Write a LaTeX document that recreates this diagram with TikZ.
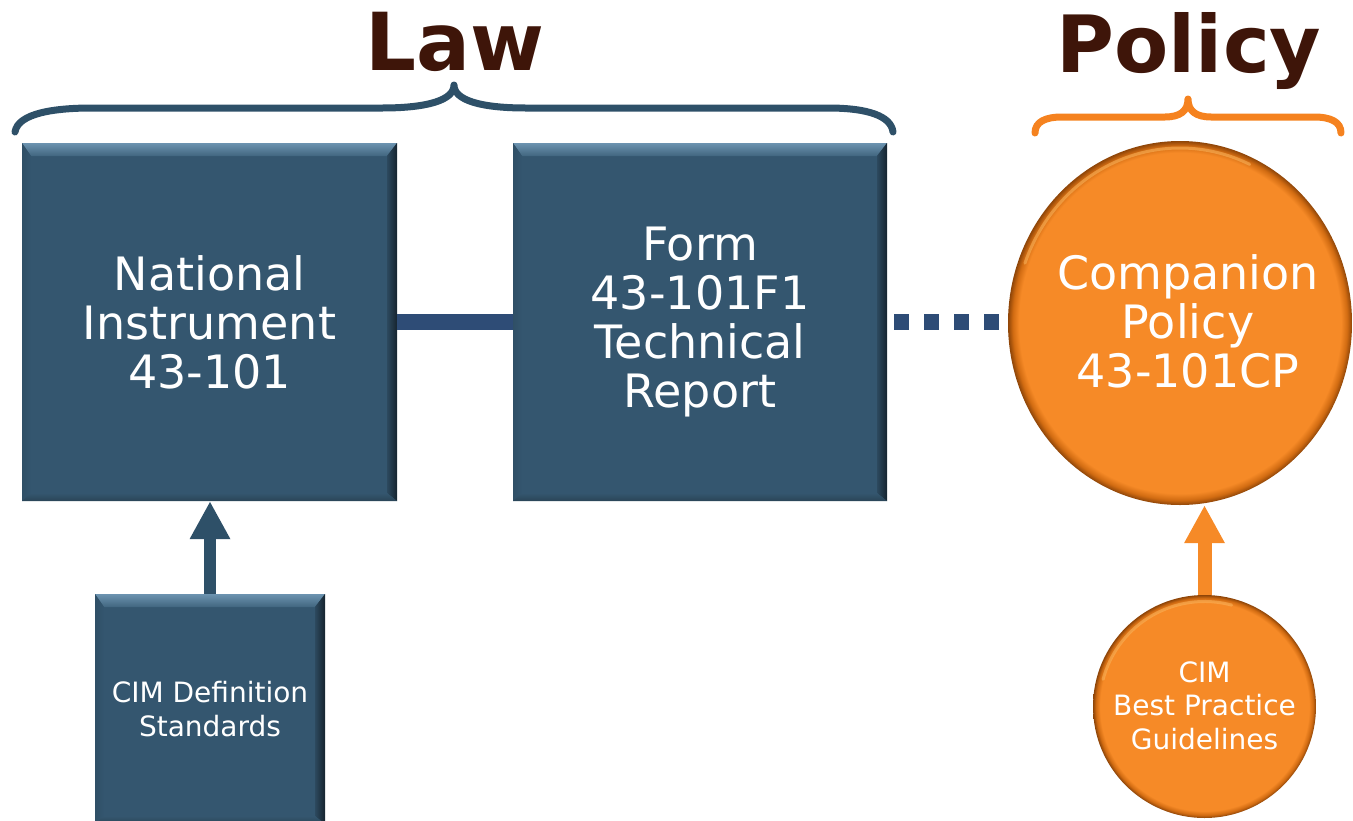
\documentclass[tikz,border=0pt]{standalone}
\usepackage{fontspec}
\setmainfont{DejaVu Sans}
\usetikzlibrary{arrows.meta,shapes.geometric}
\definecolor{boxblue}{HTML}{34566F}
\definecolor{boxlight}{HTML}{6C93B0}
\definecolor{boxmid}{HTML}{41667F}
\definecolor{boxleft}{HTML}{2F4F66}
\definecolor{boxright}{HTML}{16242F}
\definecolor{boxbottom}{HTML}{2A4557}
\definecolor{linkblue}{HTML}{2E4C76}
\definecolor{braceblue}{HTML}{2E5068}
\definecolor{orng}{HTML}{F68A27}
\definecolor{braceorange}{HTML}{F5821F}
\definecolor{titlebrown}{HTML}{3E1509}
\definecolor{orngdark}{HTML}{8E4508}
\definecolor{orngmid}{HTML}{D26C12}
\definecolor{orngglow}{HTML}{FBB65E}
\pgfdeclareradialshading{orangeball}{\pgfpoint{0bp}{0bp}}{color(0bp)=(orng); color(23.4bp)=(orng); color(24.3bp)=(orngmid); color(25bp)=(orngdark); color(50bp)=(orngdark)}
\begin{document}
\begin{tikzpicture}[x=1pt,y=-1pt,
  bevelbox/.style={rectangle, inner sep=0pt, fill=boxblue, text=white, align=center,
    path picture={
      \coordinate (NW) at (path picture bounding box.north west);
      \coordinate (NE) at (path picture bounding box.north east);
      \coordinate (SW) at (path picture bounding box.south west);
      \coordinate (SE) at (path picture bounding box.south east);
      \shade[top color=boxlight, bottom color=boxmid] (NW) -- (NE) -- ([shift={(-10pt,-13pt)}]NE) -- ([shift={(9pt,-13pt)}]NW) -- cycle;
      \shade[left color=boxleft, right color=boxblue] (NW) -- ([shift={(9pt,-13pt)}]NW) -- ([shift={(9pt,8pt)}]SW) -- (SW) -- cycle;
      \shade[left color=boxblue!85!black, right color=boxright] (NE) -- ([shift={(-10pt,-13pt)}]NE) -- ([shift={(-10pt,8pt)}]SE) -- (SE) -- cycle;
      \shade[top color=boxblue, bottom color=boxbottom] (SW) -- ([shift={(9pt,8pt)}]SW) -- ([shift={(-10pt,8pt)}]SE) -- (SE) -- cycle;
    }},
  ball/.style={ellipse, inner sep=0pt, shade, shading=orangeball},
  balltext/.style={text=white, align=center, inner sep=0pt},
  glow/.style={orngglow, line width=3pt, opacity=0.55, line cap=round},
  title/.style={text=titlebrown, anchor=base, inner sep=0pt},
  bracestyle/.style={line width=7pt, line cap=round, line join=round},
  bigtext/.style={font=\fontsize{46}{49}\selectfont},
  smalltext/.style={font=\fontsize{28}{33.5}\selectfont},
  link/.style={linkblue, line width=16pt},
]
\useasboundingbox (0,0) rectangle (1353,820);

% titles
\node[title, font=\fontsize{80}{80}\selectfont\bfseries] (law) at (455,70) {Law};
\node[title, font=\fontsize{79}{79}\selectfont\bfseries] (policy) at (1189,72) {Policy};

% braces
\draw[bracestyle, braceblue] (15,132) .. controls (18,113) and (55,108) .. (92,108)
  -- (382,108) .. controls (428,108) and (454,100) .. (454,85)
  .. controls (454,100) and (480,108) .. (526,108)
  -- (828,108) .. controls (868,108) and (891,116) .. (893,132);
\draw[bracestyle, braceorange] (1035,133) .. controls (1035,122) and (1045,117) .. (1062,117)
  -- (1165,117) .. controls (1180,117) and (1188,111) .. (1188,99)
  .. controls (1188,111) and (1196,117) .. (1211,117)
  -- (1314,117) .. controls (1331,117) and (1341,122) .. (1341,133);

% boxes
\node[bevelbox, bigtext, minimum width=375pt, minimum height=358pt] (ni) at (209.5,322) {National\\Instrument\\43-101};
\node[bevelbox, bigtext, minimum width=374pt, minimum height=358pt] (form) at (700,322) {Form\\43-101F1\\Technical\\Report};
\node[bevelbox, smalltext, minimum width=230pt, minimum height=230pt] (cim) at (210,709) {CIM Definition\\Standards};

% circles
\node[ball, minimum width=344pt, minimum height=364pt] (cp) at (1180,323) {};
\draw[glow] (cp.center) ++(160:165pt and 175pt) arc[start angle=160, end angle=65, x radius=165pt, y radius=175pt];
\node[balltext, bigtext] (cptext) at (1188,321) {Companion\\Policy\\43-101CP};
\node[ball, minimum width=223pt, minimum height=223pt] (bp) at (1204.5,706.5) {};
\draw[glow] (bp.center) ++(165:105pt and 105pt) arc[start angle=165, end angle=75, x radius=105pt, y radius=105pt];
\node[balltext, smalltext] (bptext) at (1204.5,705.5) {CIM\\Best Practice\\Guidelines};

% connectors
\draw[link] (ni.east) -- (form.west);
\draw[link, dash pattern=on 15pt off 15pt, dash phase=23pt] (form.east) -- (form.east -| cp.west);
\draw[braceblue, line width=12pt, -{Triangle[width=38pt,length=38pt]}] (cim.north) -- (cim.north |- ni.south);
\draw[orng, line width=14pt, -{Triangle[width=38pt,length=38pt]}] (bp.north) -- (bp.north |- cp.south);
\end{tikzpicture}
\end{document}
